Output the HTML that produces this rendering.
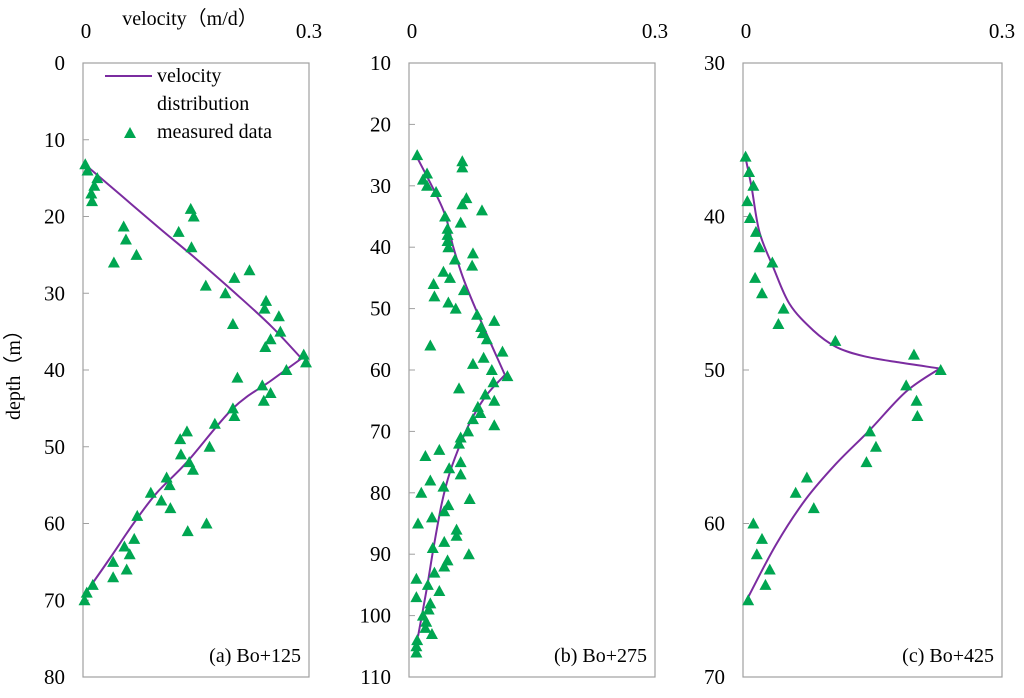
<!DOCTYPE html>
<html><head><meta charset="utf-8"><style>
html,body{margin:0;padding:0;background:#fff;}
svg{display:block;font-family:"Liberation Serif",serif;}
</style></head><body>
<svg id="chart" width="1024" height="698" viewBox="0 0 1024 698">
<text x="190" y="25" font-size="20" text-anchor="middle">velocity（m/d）</text>
<text transform="translate(20,370) rotate(-90)" font-size="20" text-anchor="middle">depth（m）</text>
<g id="legend">
<line x1="105" y1="76" x2="152" y2="76" stroke="#7b2ca0" stroke-width="2"/>
<text x="157" y="82" font-size="20">velocity</text>
<text x="157" y="110" font-size="20">distribution</text>
<polygon points="124,138 136,138 130,127" fill="#00a651"/>
<text x="157" y="138" font-size="20">measured data</text>
</g>
</svg>
<script>
// Panel (a) Bo+125
const aPtsV=[.003,.006,.019,.015,.011,.012,.054,.057,.041,.071,.127,.143,.147,.144,.163,.189,.201,.221,.199,.243,.241,.260,.262,.249,.242,.293,.296,.270,.205,.238,.249,.240,.199,.201,.175,.138,.129,.168,.130,.141,.146,.111,.115,.090,.104,.116,.072,.164,.139,.068,.055,.062,.040,.058,.040,.013,.005,.002];
const aPtsD=[13.2,14,15,16,17,18,21.3,23,26,25,22,19,20,24,29,30,28,27,34,31,32,33,35,36,37,38,39,40,41,42,43,44,45,46,47,48,49,50,51,52,53,54,55,56,57,58,59,60,61,62,63,64,65,66,67,68,69,70];
const aLineV=[0,.05,.10,.15,.20,.25,.29,.248,.199,.138,.098,.067,.036,.004];
const aLineD=[13,17.2,21.4,25.5,29.8,34.3,38.5,41.5,45,52,56,60,64.5,69];
// Panel (b) Bo+275
const bPtsV=[.010,.065,.065,.022,.017,.022,.033,.070,.065,.089,.044,.063,.047,.047,.047,.048,.078,.056,.077,.042,.050,.030,.067,.031,.048,.057,.083,.104,.088,.090,.095,.026,.114,.091,.078,.101,.120,.103,.061,.093,.104,.084,.087,.078,.104,.072,.063,.061,.037,.020,.063,.049,.063,.026,.042,.015,.074,.048,.043,.028,.011,.058,.058,.043,.029,.073,.047,.043,.031,.009,.023,.037,.009,.026,.024,.017,.021,.020,.028,.010,.009,.009];
const bPtsD=[25,26,27,28,29,30,31,32,33,34,35,36,37,38,39,40,41,42,43,44,45,46,47,48,49,50,51,52,53,54,55,56,57,58,59,60,61,62,63,64,65,66,67,68,69,70,71,72,73,74,75,76,77,78,79,80,81,82,83,84,85,86,87,88,89,90,91,92,93,94,95,96,97,98,99,100,101,102,103,104,105,106];
const bLineV=[.010,.042,.054,.066,.083,.117,.095,.078,.064,.050,.040,.030,.022,.011];
const bLineD=[25.4,34,40,45,50.6,60.8,64,67.6,71.6,76.6,81.7,88.9,95.4,103.4];
// Panel (c) Bo+425
const cPtsV=[.003,.007,.012,.005,.008,.015,.019,.034,.014,.022,.047,.041,.107,.198,.229,.189,.201,.202,.147,.154,.143,.074,.061,.082,.012,.022,.016,.031,.026,.006];
const cPtsD=[36.1,37.1,38,39,40.1,41,42,43,44,45,46,47,48.1,49,50,51,52,53,54,55,56,57,58,59,60,61,62,63,64,65];
const cLineV=[.003,.010,.019,.035,.054,.081,.108,.140,.180,.228,.189,.147,.108,.073,.039,.006];
const cLineD=[36.2,38.1,41,43.3,45.7,47.4,48.5,49.1,49.5,49.9,51.4,53.9,56.1,58.4,61.3,64.8];
const aTicks=[0,10,20,30,40,50,60,70,80];
const bTicks=[10,20,30,40,50,60,70,80,90,100,110];
const cTicks=[30,40,50,60,70];
const panels=[
 {id:'a',x0:83,x1:309,dMin:0,dMax:80,ticks:aTicks,pv:aPtsV,pd:aPtsD,lv:aLineV,ld:aLineD,label:'(a) Bo+125'},
 {id:'b',x0:409,x1:655,dMin:10,dMax:110,ticks:bTicks,pv:bPtsV,pd:bPtsD,lv:bLineV,ld:bLineD,label:'(b) Bo+275'},
 {id:'c',x0:743,x1:1002,dMin:30,dMax:70,ticks:cTicks,pv:cPtsV,pd:cPtsD,lv:cLineV,ld:cLineD,label:'(c) Bo+425'}
];
const NS='http://www.w3.org/2000/svg';
const svg=document.getElementById('chart');
const legend=document.getElementById('legend');
const Y0=63,Y1=677,VMAX=0.3;
function mk(tag,attrs,parent){const e=document.createElementNS(NS,tag);for(const k in attrs)e.setAttribute(k,attrs[k]);parent.appendChild(e);return e;}
function spline(P){
 let d='M'+P[0][0].toFixed(1)+','+P[0][1].toFixed(1);
 for(let i=0;i<P.length-1;i++){
  const p0=P[Math.max(0,i-1)],p1=P[i],p2=P[i+1],p3=P[Math.min(P.length-1,i+2)];
  const c1=[p1[0]+(p2[0]-p0[0])/6,p1[1]+(p2[1]-p0[1])/6];
  const c2=[p2[0]-(p3[0]-p1[0])/6,p2[1]-(p3[1]-p1[1])/6];
  d+=' C'+c1.map(n=>n.toFixed(1))+' '+c2.map(n=>n.toFixed(1))+' '+p2.map(n=>n.toFixed(1));
 }
 return d;
}
panels.forEach(p=>{
 const xs=v=>p.x0+(v/VMAX)*(p.x1-p.x0);
 const ys=d=>Y0+(d-p.dMin)/(p.dMax-p.dMin)*(Y1-Y0);
 const g=document.createElementNS(NS,'g');svg.insertBefore(g,legend);
 
 
 const box=mk('rect',{x:p.x0,y:Y0,width:p.x1-p.x0,height:Y1-Y0,fill:'none',stroke:'#a0a0a0','stroke-width':1.2},g);
 
 
 p.ticks.forEach(t=>{
  const y=ys(t);
  const tk=mk('line',{x1:p.x0,x2:p.x0+6,y1:y,y2:y,stroke:'#a0a0a0'},g);
  
  
  const tl=mk('text',{x:p.x0-18,y:y+7,'font-size':21,'text-anchor':'end'},g);
  tl.textContent=t;
  
  
 });
 [[0,'0'],[0.3,'0.3']].forEach(([v,s])=>{
  const tl=mk('text',{x:xs(v)+(v===0?3:0),y:38,'font-size':21,'text-anchor':'middle'},g);
  tl.textContent=s;
  
  
 });
 let pk=0;p.lv.forEach((v,i)=>{if(v>p.lv[pk])pk=i;});
 const P=p.lv.map((v,i)=>[xs(v),ys(p.ld[i])]);
 const d=spline(P.slice(0,pk+1))+' '+spline(P.slice(pk)).replace('M','L');
 const ln=mk('path',{d:d,fill:'none',stroke:'#7b2ca0','stroke-width':2,'stroke-linejoin':'round'},g);
 
 
 p.pv.forEach((v,i)=>{
  const x=xs(v),y=ys(p.pd[i]);
  const tr=mk('polygon',{points:`${x-6},${y+5} ${x+6},${y+5} ${x},${y-6}`,fill:'#00a651'},g);
  
  
 });
 const lb=mk('text',{x:p.x1-8,y:Y1-15,'font-size':20,'text-anchor':'end'},g);
 lb.textContent=p.label;
 
 
});
</script>
</body></html>
